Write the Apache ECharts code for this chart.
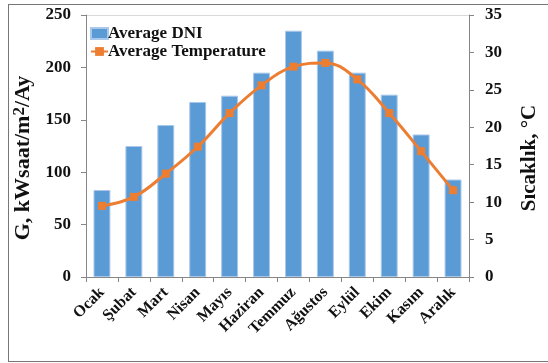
<!DOCTYPE html>
<html>
<head>
<meta charset="utf-8">
<script src="https://cdn.jsdelivr.net/npm/echarts@6/dist/echarts.min.js"></script>
<style>
  html, body { margin: 0; padding: 0; background: #fff; }
  #frame { position: absolute; left: 8px; top: 4px; width: 540px; height: 358px; border: 1px solid #777; border-right: none; box-sizing: border-box; }
  #chart { width: 548px; height: 363px; }
</style>
</head>
<body>
<div id="frame"></div>
<div id="chart"></div>
<script>
const months = ['Ocak', 'Şubat', 'Mart', 'Nisan', 'Mayıs', 'Haziran', 'Temmuz', 'Ağustos', 'Eylül', 'Ekim', 'Kasım', 'Aralık']
const dni = [83, 125, 145, 167, 173, 195, 235, 216, 195, 174, 136, 93]
const temperature = [9.5, 10.7, 13.8, 17.4, 21.9, 25.6, 28.1, 28.6, 26.4, 21.9, 16.8, 11.6]

const font = '"Liberation Serif", "DejaVu Serif", serif'
const axisGray = '#868686'

const myChart = echarts.init(document.getElementById('chart'))
myChart.setOption({
  animation: false,
  textStyle: { fontFamily: font },
  grid: { left: 86, right: 72, top: 15, bottom: 86 },
  legend: {
    left: 85, top: 20, orient: 'vertical', itemGap: 1,
    itemWidth: 17, itemHeight: 11,
    textStyle: { fontFamily: font, fontWeight: 'bold', fontSize: 17, color: '#111', padding: [0, 0, 0, -5] },
    data: [
      { name: 'Average DNI', icon: 'rect' },
      { name: 'Average Temperature' }
    ]
  },
  xAxis: {
    type: 'category',
    data: months,
    axisLine: { lineStyle: { color: axisGray } },
    axisTick: { show: true, length: 5, lineStyle: { color: axisGray } },
    axisLabel: {
      interval: 0, rotate: 45, margin: 13,
      fontFamily: font, fontWeight: 'bold', fontSize: 16, color: '#111'
    }
  },
  yAxis: [
    {
      type: 'value', min: 0, max: 250, interval: 50,
      name: 'G, kWsaat/m{sup|2}/Ay', nameLocation: 'middle', nameGap: 50,
      nameTextStyle: {
        fontFamily: font, fontWeight: 'bold', fontSize: 22, color: '#111', padding: [0, 24, 0, 0],
        rich: { sup: { fontFamily: font, fontWeight: 'bold', fontSize: 17, verticalAlign: 'top', padding: [0, 0, 8, 0], color: '#111' } }
      },
      axisLine: { show: true, lineStyle: { color: axisGray } },
      axisTick: { show: true, length: 5, lineStyle: { color: axisGray } },
      axisLabel: { fontFamily: font, fontWeight: 'bold', fontSize: 17, color: '#111', margin: 15 },
      splitLine: { show: true, lineStyle: { color: ['transparent', 'transparent', 'transparent', 'transparent', 'transparent', '#d9d9d9'] } }
    },
    {
      type: 'value', min: 0, max: 35, interval: 5, position: 'right',
      name: 'Sıcaklık, °C', nameLocation: 'middle', nameGap: 50, nameRotate: 90,
      nameTextStyle: { fontFamily: font, fontWeight: 'bold', fontSize: 21, color: '#111', padding: [0, 24, 0, 0] },
      axisLine: { show: true, lineStyle: { color: axisGray } },
      axisTick: { show: true, length: 5, lineStyle: { color: axisGray } },
      axisLabel: { fontFamily: font, fontWeight: 'bold', fontSize: 17, color: '#111', margin: 16 },
      splitLine: { show: false }
    }
  ],
  series: [
    {
      name: 'Average DNI', type: 'bar', data: dni, barWidth: '53%',
      itemStyle: { color: '#5b9bd5', borderColor: '#a9c8ea', borderWidth: 1 }
    },
    {
      name: 'Average Temperature', type: 'line', yAxisIndex: 1, data: temperature,
      smooth: 0.4, symbol: 'rect', symbolSize: 8,
      lineStyle: { color: '#ed7d31', width: 3 },
      itemStyle: { color: '#ed7d31' }
    }
  ]
})
</script>
</body>
</html>
